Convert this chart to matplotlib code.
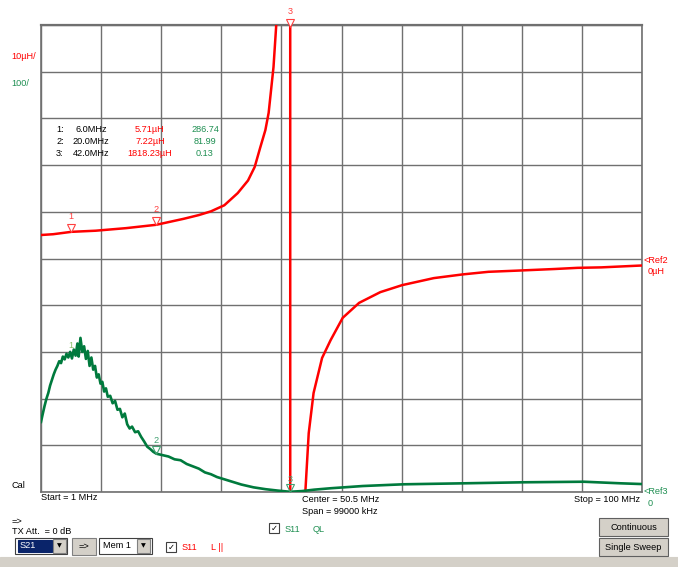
import matplotlib
matplotlib.use("Agg")
import matplotlib.pyplot as plt
import matplotlib.transforms as mtransforms
from matplotlib.patches import Rectangle
import numpy as np

plt.rcParams['font.family'] = ['Liberation Sans', 'DejaVu Sans']

W, H = 678, 567

# sweep settings
f_start, f_stop = 1.0, 100.0

# S11 L|| trace (uH)
red_f = [1.0, 3.0, 6.0, 10.0, 15.0, 20.0, 24.5, 27.0, 29.0, 31.2, 33.4, 35.1, 36.2,
         37.1, 37.96, 38.5, 39.3, 39.8, 40.5, 42.0, 42.1, 44.56, 45.1, 45.9, 47.3,
         48.7, 50.7, 53.4, 56.9, 60.5, 65.7, 70.5, 74.7, 79.4, 85.6, 89.4, 93.3, 99.1, 100.0]
red_L = [5.03, 5.2, 5.71, 5.95, 6.5, 7.22, 8.5, 9.3, 10.1, 11.4, 14.0, 16.7, 19.6,
         23.7, 27.5, 31.2, 41.0, 51.0, 300.0, 1818.23, -1500.0, -49.6, -37.4, -28.8, -21.3,
         -17.5, -12.7, -9.5, -7.2, -5.7, -4.2, -3.4, -2.85, -2.6, -2.25, -2.0, -1.9, -1.55, -1.5]

# S11 QL trace
green_f = [1.0, 1.3, 1.6, 1.9, 2.2, 2.5, 2.8, 3.1, 3.4, 3.7, 4.0, 4.3, 4.6, 4.9, 5.2, 5.5,
           5.8, 6.1, 6.4, 6.7, 7.0, 7.2, 7.5, 7.8, 8.1, 8.4, 8.7, 9.0, 9.3, 9.6, 9.9, 10.2,
           10.5, 10.8, 11.1, 11.4, 11.7, 12.0, 12.4, 12.8, 13.2, 13.6, 14.0, 14.4, 14.8, 15.2,
           15.6, 16.0, 16.5, 17.0, 17.5, 18.0, 18.5, 19.0, 19.5, 20.0, 21.0, 22.0, 23.0, 24.0,
           25.0, 26.0, 27.0, 28.0, 29.0, 30.0, 32.0, 34.0, 36.0, 38.0, 40.0, 42.0, 44.0, 46.0,
           48.7, 54.0, 60.7, 70.6, 80.5, 90.4, 96.5, 100.0]
green_Q = [150, 168, 185, 200, 212, 228, 240, 252, 262, 270, 280, 276, 290, 284, 296, 288,
           300, 286, 305, 292, 318, 290, 330, 300, 312, 285, 302, 270, 288, 262, 270, 245,
           252, 232, 236, 215, 222, 204, 206, 190, 195, 176, 178, 160, 168, 145,
           136, 140, 128, 130, 118, 108, 97, 92, 86, 82, 79, 76, 70, 68,
           60, 55, 50, 42, 38, 32, 24, 16, 10, 6, 3, 0.5, 2, 5,
           8, 12.8, 16.5, 18.6, 20.8, 22, 18.6, 17]

# markers
mk_f = [6.0, 20.0, 42.0]
mk_L = [5.71, 7.22, 1818.23]
mk_Q = [286.74, 81.99, 0.13]
mk_f_txt = ["6.0MHz", "20.0MHz", "42.0MHz"]
mk_L_txt = ["5.71µH", "7.22µH", "1818.23µH"]
mk_Q_txt = ["286.74", "81.99", "0.13"]

RED = '#ff0000'
GREEN = '#007a3d'
GTXT = '#1f8f52'
fs = 6.6

fig = plt.figure(figsize=(W / 100, H / 100), dpi=100)
fig.patch.set_facecolor('white')

def fx(x):
    return x / W

def fy(y):
    return 1 - y / H

ax = fig.add_axes([fx(41), fy(492), (642 - 41) / W, (492 - 25) / H])
ax.set_xlim(f_start, f_stop)
ax.set_ylim(-50, 50)
ax.set_xticks(np.linspace(f_start, f_stop, 11))
ax.set_yticks(np.linspace(-50, 50, 11))
ax.tick_params(length=0, labelbottom=False, labelleft=False)
ax.grid(True, color='#707070', lw=1.0)
for s in ax.spines.values():
    s.set_color('#707070')
    s.set_linewidth(1.2)
ax.spines['top'].set_linewidth(1.6)

ax.plot(red_f, red_L, color=RED, lw=1.8, zorder=3)

ax2 = ax.twinx()
ax2.set_ylim(0, 1000)
ax2.set_yticks([])
for s in ax2.spines.values():
    s.set_visible(False)
ax2.plot(green_f, green_Q, color=GREEN, lw=1.9, zorder=3)

# marker triangles with numbers
for i in range(3):
    yv = min(mk_L[i], 49.5)
    tr = mtransforms.offset_copy(ax.transData, fig=fig, y=4, units='dots')
    ax.plot(mk_f[i], yv, marker='v', ms=6, mfc='white', mec='#ff4040', mew=0.8,
            transform=tr, clip_on=False, zorder=5)
    ax.annotate(str(i + 1), (mk_f[i], yv), xytext=(0, 8), textcoords='offset points',
                ha='center', va='bottom', color='#ff4040', fontsize=fs, annotation_clip=False)
for i in range(3):
    tr = mtransforms.offset_copy(ax2.transData, fig=fig, y=4, units='dots')
    if i > 0:
        ax2.plot(mk_f[i], mk_Q[i], marker='v', ms=6, mfc='none', mec='#40a070', mew=0.8,
                 transform=tr, clip_on=False, zorder=5)
    ax2.annotate(str(i + 1), (mk_f[i], mk_Q[i]), xytext=(0, 6), textcoords='offset points',
                 ha='center', va='bottom', color='#8cbf6a' if i == 0 else '#40a070',
                 fontsize=fs, annotation_clip=False)

# marker readout table
for i in range(3):
    yy = fy(129.5 + i * 12)
    fig.text(fx(56), yy, f"{i + 1}:", fontsize=fs, va='center')
    fig.text(fx(91), yy, mk_f_txt[i], fontsize=fs, va='center', ha='center')
    fig.text(fx(150), yy, mk_L_txt[i], fontsize=fs, va='center', ha='center', color=RED)
    fig.text(fx(205), yy, mk_Q_txt[i], fontsize=fs, va='center', ha='center', color=GTXT)

# scale / reference labels
fig.text(fx(11), fy(57), "10µH/", fontsize=fs, va='center', color=RED)
fig.text(fx(11), fy(83), "100/", fontsize=fs, va='center', color=GTXT)
fig.text(fx(643), fy(261), "<Ref2", fontsize=fs, va='center', color=RED)
fig.text(fx(648), fy(272), "0µH", fontsize=fs, va='center', color=RED)
fig.text(fx(643), fy(492), "<Ref3", fontsize=fs, va='center', color=GTXT)
fig.text(fx(648), fy(503), "0", fontsize=fs, va='center', color=GTXT)
fig.text(fx(12), fy(486), "Cal", fontsize=fs, va='center')
fig.text(fx(41), fy(498), "Start = 1 MHz", fontsize=fs, va='center')
fig.text(fx(302), fy(499), "Center = 50.5 MHz", fontsize=fs, va='center')
fig.text(fx(302), fy(512), "Span = 99000 kHz", fontsize=fs, va='center')
fig.text(fx(640), fy(500), "Stop = 100 MHz", fontsize=fs, va='center', ha='right')

# control panel
def box(x0, y0, x1, y1, fc, ec='#808080', lw=0.8):
    fig.patches.append(Rectangle((fx(x0), fy(y1)), (x1 - x0) / W, (y1 - y0) / H,
                                 transform=fig.transFigure, fc=fc, ec=ec, lw=lw))

fig.text(fx(12), fy(521), "=>", fontsize=fs, va='center')
fig.text(fx(12), fy(532), "TX Att.  = 0 dB", fontsize=fs, va='center')

box(0, 557, W, H, '#d4d0c8', ec='#d4d0c8')
box(15, 538, 67, 554, 'white', ec='#404040')
box(18, 540, 52, 552, '#0a246a', ec='#0a246a')
fig.text(fx(20), fy(546), "S21", fontsize=fs, va='center', color='white')
box(53, 539, 66, 553, '#d4d0c8')
fig.text(fx(59.5), fy(546), "▼", fontsize=4.5, va='center', ha='center', family='DejaVu Sans')
box(72, 538, 96, 555, '#d4d0c8')
fig.text(fx(84), fy(546), "=>", fontsize=fs, va='center', ha='center')
box(99, 538, 152, 554, 'white', ec='#404040')
fig.text(fx(103), fy(546), "Mem 1", fontsize=fs, va='center')
box(137, 539, 150, 553, '#d4d0c8')
fig.text(fx(143.5), fy(546), "▼", fontsize=4.5, va='center', ha='center', family='DejaVu Sans')

box(166, 542, 176, 552, 'white', ec='#404040')
fig.text(fx(171), fy(547), "✓", fontsize=6, va='center', ha='center', family='DejaVu Sans')
fig.text(fx(182), fy(547), "S11", fontsize=fs, va='center', color=RED)
fig.text(fx(211), fy(547), "L ||", fontsize=fs, va='center', color=RED)

box(269, 523, 279, 533, 'white', ec='#404040')
fig.text(fx(274), fy(528), "✓", fontsize=6, va='center', ha='center', family='DejaVu Sans')
fig.text(fx(285), fy(529), "S11", fontsize=fs, va='center', color=GTXT)
fig.text(fx(313), fy(529), "QL", fontsize=fs, va='center', color=GTXT)

box(599, 518, 668, 536, '#d4d0c8', ec='#606060')
fig.text(fx(633.5), fy(527), "Continuous", fontsize=fs, va='center', ha='center')
box(599, 538, 668, 556, '#d4d0c8', ec='#606060')
fig.text(fx(633.5), fy(547), "Single Sweep", fontsize=fs, va='center', ha='center')

fig.savefig('out.png', dpi=100)
